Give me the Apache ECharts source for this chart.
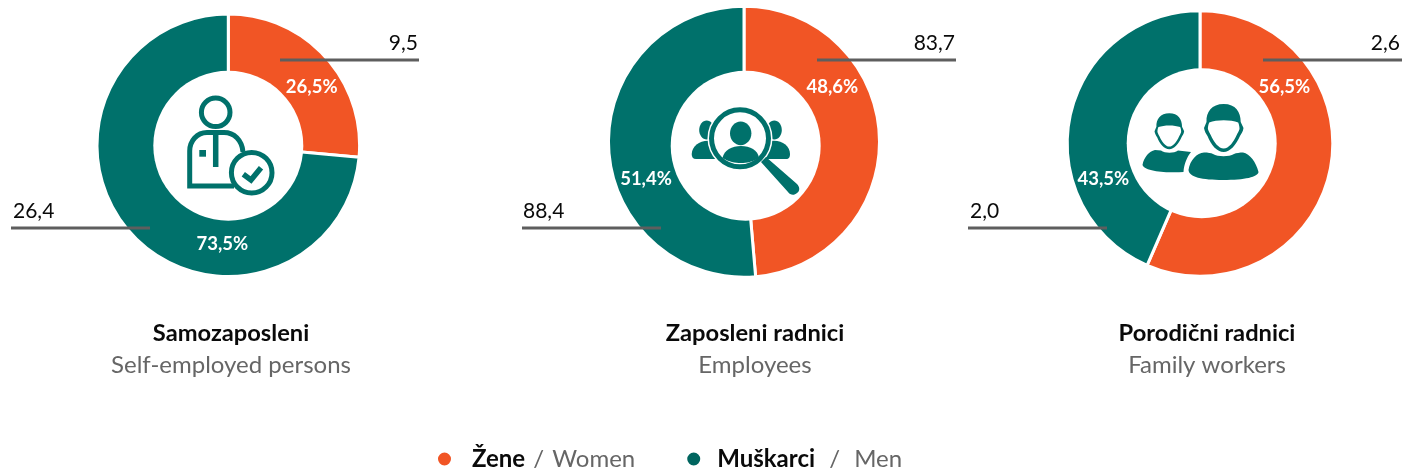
<!DOCTYPE html>
<html>
<head>
<meta charset="utf-8">
<style>
  html, body { margin: 0; padding: 0; background: #fff; }
  #chart { width: 1404px; height: 469px; }
</style>
<script src="https://cdn.jsdelivr.net/npm/echarts@6/dist/echarts.min.js"></script>
</head>
<body>
<div id="chart"></div>
<script>
// data
const womenValues = [9.5, 83.7, 2.6];
const menValues = [26.4, 88.4, 2.0];
const titlesHr = ["Samozaposleni", "Zaposleni radnici", "Porodični radnici"];
const titlesEn = ["Self-employed persons", "Employees", "Family workers"];
const legendHr = ["Žene", "Muškarci"];
const legendEn = ["Women", "Men"];

const ORANGE = "#f15525";
const TEAL = "#00716b";
const LINE = "#5e5e5e";
const FONT = "Lato, 'Noto Sans', sans-serif";

// layout of each donut
const pies = [
  { cx: 228.3, cy: 145.3, r: 130.3, hx: 228.3, hy: 145.7, titleX: 231,
    lineW: [280, 419], lineM: [11, 150], textW: 418, textM: 13,
    pctW: [311.7, 87.3], pctM: [222.3, 244.3] },
  { cx: 744, cy: 141.7, r: 134.5, hx: 745.7, hy: 145.7, titleX: 755,
    lineW: [817, 956], lineM: [522, 661], textW: 955, textM: 523,
    pctW: [832.3, 87.3], pctM: [646, 179.3] },
  { cx: 1200, cy: 143.5, r: 131.8, hx: 1201.7, hy: 143.3, titleX: 1207,
    lineW: [1263, 1402], lineM: [968, 1107], textW: 1400, textM: 970,
    pctW: [1284.3, 87.3], pctM: [1103.3, 179.3] }
];

const comma = (v, d) => v.toFixed(d).replace(".", ",");

const series = pies.map((p, i) => ({
  type: "pie",
  center: [p.cx, p.cy],
  radius: [60, p.r + 1],
  startAngle: 90,
  silent: true,
  itemStyle: { borderColor: "#fff", borderWidth: 3 },
  labelLine: { show: false },
  label: {
    show: true,
    position: "inside",
    color: "#fff",
    fontFamily: FONT,
    fontWeight: "bold",
    fontSize: 18.5,
    formatter: (params) => comma(params.percent, 1) + "%"
  },
  labelLayout: (params) => {
    const pos = params.dataIndex === 0 ? p.pctW : p.pctM;
    return { x: pos[0], y: pos[1], align: "center", verticalAlign: "middle" };
  },
  data: [
    { name: legendHr[0], value: womenValues[i], itemStyle: { color: ORANGE } },
    { name: legendHr[1], value: menValues[i], itemStyle: { color: TEAL } }
  ]
}));

const tealFill = { fill: TEAL };
const tealStroke = (w) => ({ fill: null, stroke: TEAL, lineWidth: w });

// the graphic component has no plain path type, so each svg path becomes a shape
let shapeCount = 0;
function pathEl(d, style) {
  const name = "iconShape" + shapeCount++;
  echarts.graphic.registerShape(name, echarts.graphic.extendPath(d, {}));
  return { type: name, style: style || tealFill };
}
function circleEl(x, y, r, style) {
  return { type: "circle", shape: { cx: x, cy: y, r: r }, style: style };
}

const selfEmployedIcon = [
  circleEl(215.7, 112.3, 14.3, tealStroke(5)),
  pathEl("M243 152 C242 140 234 132.5 224 132.5 L207 132.5 C197 132.5 189.7 141 189.7 151 L189.7 186 L234 186", tealStroke(5)),
  pathEl("M215.7 133 L215.7 167", tealStroke(5.5)),
  { type: "rect", shape: { x: 199.3, y: 150, width: 6.7, height: 6.7 }, style: tealFill },
  circleEl(251.7, 172.7, 20.3, { fill: "#fff", stroke: TEAL, lineWidth: 5 }),
  pathEl("M243.3 174.3 L251 180 L261 167.7", tealStroke(5.5))
];

const employeesIcon = [
  { type: "ellipse", shape: { cx: 706.7, cy: 130, rx: 7.5, ry: 9.5 }, style: tealFill },
  { type: "ellipse", shape: { cx: 774.3, cy: 130, rx: 7.5, ry: 9.5 }, style: tealFill },
  pathEl("M691.7 154 C692 146 699 141 708 140.7 L716 141 L716 159 L696 159 C693 159 691.7 157 691.7 154 Z"),
  pathEl("M790 154 C790 146 783 141 774 140.7 L766 141 L766 159 L786 159 C789 159 790 157 790 154 Z"),
  circleEl(740, 138.3, 32.5, { fill: "#fff" }),
  circleEl(740, 138.3, 28.5, tealStroke(5)),
  { type: "ellipse", shape: { cx: 740.7, cy: 133.3, rx: 10.7, ry: 11.9 }, style: tealFill },
  pathEl("M722.5 158 C724 150 732 146 741 146 C750 146 758 150 759 158 C752 162 747 163 741 163 C735 163 729 162 722.5 158 Z"),
  pathEl("M761 162 L766 157 L797 184 C800 187 800 191 797 193 C794 196 790 195 788 192 Z")
];

// head drawn around its own centre, used at two sizes
const headOuter = "M0 -24 C12 -24 17 -16 17 -6 L19.8 0 C19.3 4 17.3 6 16.3 8 C12.3 17 6.3 24 0 24 C-6.7 24 -12.7 17 -16.2 8 C-17.7 6 -19.2 3 -19.7 0 L-17.2 -6 C-17.7 -16 -12 -24 0 -24 Z";
const headFace = "M-14.5 -5.5 C-7 -8.5 7 -8.5 14.5 -5.5 C15.5 -3 15.8 -1 15.8 1 C15 3.5 14 5 13 7 C10 14 5 20.5 0 20.5 C-5 20.5 -10 14 -13 7 C-14 5 -15 3.5 -15.8 1 C-15.8 -1 -15.5 -3 -14.5 -5.5 Z";

function headGroup(x, y, s) {
  return {
    type: "group", x: x, y: y, scaleX: s, scaleY: s,
    children: [pathEl(headOuter), pathEl(headFace, { fill: "#fff" })]
  };
}

const familyIcon = [
  headGroup(1169.3, 131.2, 0.75),
  pathEl("M1142.5 165 C1144 157 1149 151.5 1155 150 L1161 150.5 C1165 153.5 1174 153.5 1178 150.5 L1191 152 C1187 157 1184 164 1183.5 172 C1170 173 1145 172 1142.5 165 Z"),
  headGroup(1223.7, 128, 1),
  pathEl("M1188.5 170 C1190 160 1197 153 1204 152.5 C1208 152.5 1211 153 1213 154 C1218 157 1229 157 1234 154 C1236 153 1240 152.5 1243 152.5 C1250 154 1256 162 1258.5 172 C1258 177 1245 180 1223 180 C1202 180 1189 177 1188.5 170 Z",
    { fill: TEAL })
];

const icons = [selfEmployedIcon, employeesIcon, familyIcon];

const graphic = [];
pies.forEach((p, i) => {
  graphic.push(circleEl(p.hx, p.hy, 75, { fill: "#fff" }));
  icons[i].forEach((el) => graphic.push(el));

  [[p.lineW, 60], [p.lineM, 228]].forEach(([xs, y]) => {
    graphic.push({
      type: "line",
      shape: { x1: xs[0], y1: y, x2: xs[1], y2: y },
      style: { stroke: LINE, lineWidth: 3 }
    });
  });
  graphic.push({
    type: "text", x: p.textW, y: 54,
    style: { text: comma(womenValues[i], 1), font: "21px " + FONT, fill: "#0a0a0a", align: "right", verticalAlign: "bottom" }
  });
  graphic.push({
    type: "text", x: p.textM, y: 222,
    style: { text: comma(menValues[i], 1), font: "21px " + FONT, fill: "#0a0a0a", align: "left", verticalAlign: "bottom" }
  });
  graphic.push({
    type: "text", x: p.titleX, y: 333,
    style: { text: titlesHr[i], font: "bold 23.7px " + FONT, fill: "#0a0a0a", align: "center", verticalAlign: "middle" }
  });
  graphic.push({
    type: "text", x: p.titleX, y: 365,
    style: { text: titlesEn[i], font: "24px " + FONT, fill: "#666", align: "center", verticalAlign: "middle" }
  });
});

// the graphic layer has to sit above the pies
function raise(el) {
  el.z = 10;
  if (el.children) el.children.forEach(raise);
}
graphic.forEach(raise);

const chart = echarts.init(document.getElementById("chart"), null, { renderer: "canvas" });
chart.setOption({
  animation: false,
  backgroundColor: "#fff",
  legend: {
    left: 436,
    top: 447,
    padding: 0,
    icon: "circle",
    itemWidth: 15,
    itemHeight: 15,
    itemGap: 50,
    selectedMode: false,
    data: [
      { name: legendHr[0], itemStyle: { color: ORANGE } },
      { name: legendHr[1], itemStyle: { color: "#00655f" } }
    ],
    formatter: (name) => {
      const i = legendHr.indexOf(name);
      return "{sp" + i + "| }{hr|" + name + "}{sl" + i + "| / }{en|" + legendEn[i] + "}";
    },
    textStyle: {
      rich: {
        sp0: { width: 15, fontSize: 24 },
        sp1: { width: 11, fontSize: 24 },
        hr: { fontFamily: FONT, fontSize: 24, fontWeight: "bold", color: "#0a0a0a" },
        sl0: { fontFamily: FONT, fontSize: 24, color: "#666", padding: [0, 2] },
        sl1: { fontFamily: FONT, fontSize: 24, color: "#666", padding: [0, 8] },
        en: { fontFamily: FONT, fontSize: 24, color: "#666" }
      }
    }
  },
  graphic: { elements: graphic },
  series: series
});
</script>
</body>
</html>
